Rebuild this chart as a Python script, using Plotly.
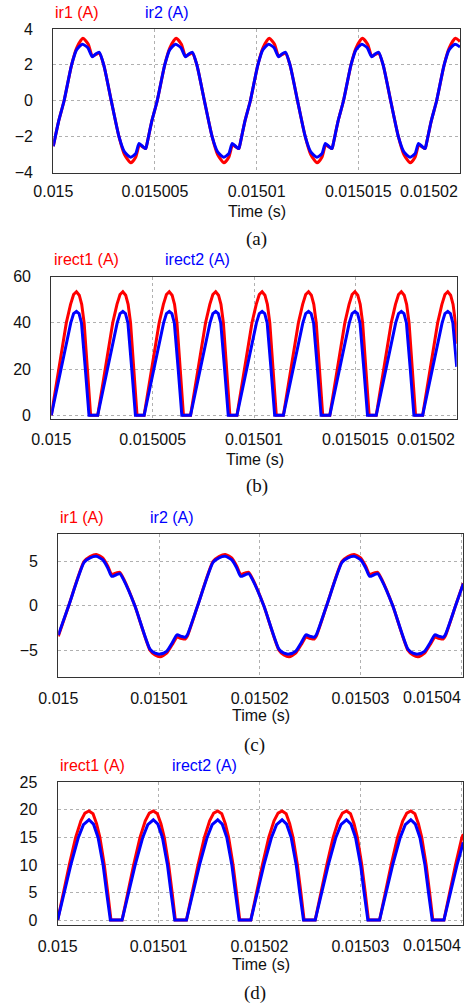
import numpy as np
import plotly.graph_objects as go

W, H = 468, 1006
T0 = 0.015      # time origin (s)
US = 1e-6       # the time arrays below are offsets in microseconds

# ---------------- (a) resonant currents ir1 / ir2 ----------------
a_t1 = [0.00, 0.25, 0.53, 0.90, 1.15, 1.46, 1.72, 1.92, 2.10, 2.26, 2.48, 2.85, 3.23, 3.50, 3.81, 4.05, 4.24, 4.40, 4.54,
        4.58, 4.83, 5.11, 5.48, 5.73, 6.04, 6.30, 6.50, 6.68, 6.84, 7.06, 7.43, 7.81, 8.08, 8.39, 8.63, 8.82, 8.98, 9.12,
        9.16, 9.41, 9.69, 10.06, 10.31, 10.62, 10.88, 11.08, 11.26, 11.42, 11.64, 12.01, 12.39, 12.66, 12.97, 13.21, 13.40, 13.56, 13.70,
        13.74, 13.99, 14.27, 14.64, 14.89, 15.20, 15.46, 15.66, 15.84, 16.00, 16.22, 16.59, 16.97, 17.24, 17.55, 17.79, 17.98, 18.14, 18.28,
        18.32, 18.57, 18.85, 19.22, 19.47, 19.78, 20.00]
a_ir1 = [-2.54, -1.20, 0, 2.00, 2.95, 3.48, 3.15, 2.48, 2.58, 2.65, 2.00, 0, -2.00, -3.00, -3.46, -3.15, -2.45, -2.58, -2.67,
         -2.54, -1.20, 0, 2.00, 2.95, 3.48, 3.15, 2.48, 2.58, 2.65, 2.00, 0, -2.00, -3.00, -3.46, -3.15, -2.45, -2.58, -2.67,
         -2.54, -1.20, 0, 2.00, 2.95, 3.48, 3.15, 2.48, 2.58, 2.65, 2.00, 0, -2.00, -3.00, -3.46, -3.15, -2.45, -2.58, -2.67,
         -2.54, -1.20, 0, 2.00, 2.95, 3.48, 3.15, 2.48, 2.58, 2.65, 2.00, 0, -2.00, -3.00, -3.46, -3.15, -2.45, -2.58, -2.67,
         -2.54, -1.20, 0, 2.00, 2.95, 3.48, 3.30]
a_t2 = [0.00, 0.25, 0.53, 0.90, 1.15, 1.43, 1.70, 1.92, 2.10, 2.26, 2.48, 2.85, 3.23, 3.50, 3.80, 4.05, 4.22, 4.40, 4.54,
        4.58, 4.83, 5.11, 5.48, 5.73, 6.01, 6.28, 6.50, 6.68, 6.84, 7.06, 7.43, 7.81, 8.08, 8.38, 8.63, 8.80, 8.98, 9.12,
        9.16, 9.41, 9.69, 10.06, 10.31, 10.59, 10.86, 11.08, 11.26, 11.42, 11.64, 12.01, 12.39, 12.66, 12.96, 13.21, 13.38, 13.56, 13.70,
        13.74, 13.99, 14.27, 14.64, 14.89, 15.17, 15.44, 15.66, 15.84, 16.00, 16.22, 16.59, 16.97, 17.24, 17.54, 17.79, 17.96, 18.14, 18.28,
        18.32, 18.57, 18.85, 19.22, 19.47, 19.75, 20.00]
a_ir2 = [-2.54, -1.20, 0, 2.00, 2.85, 3.15, 2.95, 2.45, 2.62, 2.70, 2.00, 0, -2.00, -2.85, -3.15, -2.95, -2.38, -2.55, -2.67,
         -2.54, -1.20, 0, 2.00, 2.85, 3.15, 2.95, 2.45, 2.62, 2.70, 2.00, 0, -2.00, -2.85, -3.15, -2.95, -2.38, -2.55, -2.67,
         -2.54, -1.20, 0, 2.00, 2.85, 3.15, 2.95, 2.45, 2.62, 2.70, 2.00, 0, -2.00, -2.85, -3.15, -2.95, -2.38, -2.55, -2.67,
         -2.54, -1.20, 0, 2.00, 2.85, 3.15, 2.95, 2.45, 2.62, 2.70, 2.00, 0, -2.00, -2.85, -3.15, -2.95, -2.38, -2.55, -2.67,
         -2.54, -1.20, 0, 2.00, 2.85, 3.15, 3.00]

# ---------------- (b) rectifier currents irect1 / irect2 ----------------
b_t1 = [0.00, 0.19, 0.38, 0.56, 0.74, 0.95, 1.10, 1.24, 1.38, 1.50, 1.62, 1.78, 1.94,
        2.29, 2.48, 2.67, 2.85, 3.03, 3.24, 3.39, 3.53, 3.67, 3.79, 3.91, 4.07, 4.23,
        4.58, 4.77, 4.96, 5.14, 5.32, 5.53, 5.68, 5.82, 5.96, 6.08, 6.20, 6.36, 6.52,
        6.87, 7.06, 7.25, 7.43, 7.61, 7.82, 7.97, 8.11, 8.25, 8.37, 8.49, 8.65, 8.81,
        9.16, 9.35, 9.54, 9.72, 9.90, 10.11, 10.26, 10.40, 10.54, 10.66, 10.78, 10.94, 11.10,
        11.45, 11.64, 11.83, 12.01, 12.19, 12.40, 12.55, 12.69, 12.83, 12.95, 13.07, 13.23, 13.39,
        13.74, 13.93, 14.12, 14.30, 14.48, 14.69, 14.84, 14.98, 15.12, 15.24, 15.36, 15.52, 15.68,
        16.03, 16.22, 16.41, 16.59, 16.77, 16.98, 17.13, 17.27, 17.41, 17.53, 17.65, 17.81, 17.97,
        18.32, 18.51, 18.70, 18.88, 19.06, 19.27, 19.42, 19.56, 19.70, 19.82, 19.94, 20.00]
b_irect1 = [0, 10, 20, 30, 40, 48, 52.3, 53.5, 52, 48, 40, 20, 0,
            0, 10, 20, 30, 40, 48, 52.3, 53.5, 52, 48, 40, 20, 0,
            0, 10, 20, 30, 40, 48, 52.3, 53.5, 52, 48, 40, 20, 0,
            0, 10, 20, 30, 40, 48, 52.3, 53.5, 52, 48, 40, 20, 0,
            0, 10, 20, 30, 40, 48, 52.3, 53.5, 52, 48, 40, 20, 0,
            0, 10, 20, 30, 40, 48, 52.3, 53.5, 52, 48, 40, 20, 0,
            0, 10, 20, 30, 40, 48, 52.3, 53.5, 52, 48, 40, 20, 0,
            0, 10, 20, 30, 40, 48, 52.3, 53.5, 52, 48, 40, 20, 0,
            0, 10, 20, 30, 40, 48, 52.3, 53.5, 52, 48, 40, 31]
b_t2 = [0.00, 0.24, 0.47, 0.72, 0.96, 1.10, 1.24, 1.37, 1.49, 1.68, 1.86,
        2.29, 2.53, 2.76, 3.01, 3.25, 3.39, 3.53, 3.66, 3.78, 3.97, 4.15,
        4.58, 4.82, 5.05, 5.30, 5.54, 5.68, 5.82, 5.95, 6.07, 6.26, 6.44,
        6.87, 7.11, 7.34, 7.59, 7.83, 7.97, 8.11, 8.24, 8.36, 8.55, 8.73,
        9.16, 9.40, 9.63, 9.88, 10.12, 10.26, 10.40, 10.53, 10.65, 10.84, 11.02,
        11.45, 11.69, 11.92, 12.17, 12.41, 12.55, 12.69, 12.82, 12.94, 13.13, 13.31,
        13.74, 13.98, 14.21, 14.46, 14.70, 14.84, 14.98, 15.11, 15.23, 15.42, 15.60,
        16.03, 16.27, 16.50, 16.75, 16.99, 17.13, 17.27, 17.40, 17.52, 17.71, 17.89,
        18.32, 18.56, 18.79, 19.04, 19.28, 19.42, 19.56, 19.69, 19.81, 20.00]
b_irect2 = [0, 10, 20, 30, 40, 44, 45, 44, 40, 20, 0,
            0, 10, 20, 30, 40, 44, 45, 44, 40, 20, 0,
            0, 10, 20, 30, 40, 44, 45, 44, 40, 20, 0,
            0, 10, 20, 30, 40, 44, 45, 44, 40, 20, 0,
            0, 10, 20, 30, 40, 44, 45, 44, 40, 20, 0,
            0, 10, 20, 30, 40, 44, 45, 44, 40, 20, 0,
            0, 10, 20, 30, 40, 44, 45, 44, 40, 20, 0,
            0, 10, 20, 30, 40, 44, 45, 44, 40, 20, 0,
            0, 10, 20, 30, 40, 44, 45, 44, 40, 21]

# ---------------- (c) resonant currents ir1 / ir2 ----------------
c_t = [0.00, 1.03, 2.56, 3.15, 3.77, 4.40, 4.90, 5.30, 5.75, 6.10, 6.50, 7.60, 9.10, 9.60, 10.11, 10.75, 11.30, 11.78, 12.20, 12.60,
       12.80, 13.83, 15.36, 15.95, 16.57, 17.20, 17.70, 18.10, 18.55, 18.90, 19.30, 20.40, 21.90, 22.40, 22.91, 23.55, 24.10, 24.58, 25.00, 25.40,
       25.60, 26.63, 28.16, 28.75, 29.37, 30.00, 30.50, 30.90, 31.35, 31.70, 32.10, 33.20, 34.70, 35.20, 35.71, 36.35, 36.90, 37.38, 37.80, 38.20,
       38.40, 39.43, 40.20]
c_ir1 = [-3.45, 0, 5.00, 5.55, 5.80, 5.40, 4.50, 3.55, 3.70, 3.78, 3.00, 0, -5.00, -5.55, -5.75, -5.35, -4.40, -3.55, -3.68, -3.75,
         -3.45, 0, 5.00, 5.55, 5.80, 5.40, 4.50, 3.55, 3.70, 3.78, 3.00, 0, -5.00, -5.55, -5.75, -5.35, -4.40, -3.55, -3.68, -3.75,
         -3.45, 0, 5.00, 5.55, 5.80, 5.40, 4.50, 3.55, 3.70, 3.78, 3.00, 0, -5.00, -5.55, -5.75, -5.35, -4.40, -3.55, -3.68, -3.75,
         -3.45, 0, 2.55]
c_ir2 = [-3.30, 0, 4.90, 5.40, 5.58, 5.20, 4.30, 3.32, 3.50, 3.62, 2.90, 0, -4.90, -5.35, -5.45, -5.15, -4.20, -3.28, -3.45, -3.55,
         -3.30, 0, 4.90, 5.40, 5.58, 5.20, 4.30, 3.32, 3.50, 3.62, 2.90, 0, -4.90, -5.35, -5.45, -5.15, -4.20, -3.28, -3.45, -3.55,
         -3.30, 0, 4.90, 5.40, 5.58, 5.20, 4.30, 3.32, 3.50, 3.62, 2.90, 0, -4.90, -5.35, -5.45, -5.15, -4.20, -3.28, -3.45, -3.55,
         -3.30, 0, 2.50]

# ---------------- (d) rectifier currents irect1 / irect2 ----------------
d_t1 = [0.00, 0.56, 1.15, 1.78, 2.30, 2.70, 3.10, 3.50, 3.85, 4.18, 4.62, 4.96, 5.28,
        6.38, 6.94, 7.53, 8.16, 8.68, 9.08, 9.48, 9.88, 10.23, 10.56, 11.00, 11.34, 11.66,
        12.76, 13.32, 13.91, 14.54, 15.06, 15.46, 15.86, 16.26, 16.61, 16.94, 17.38, 17.72, 18.04,
        19.14, 19.70, 20.29, 20.92, 21.44, 21.84, 22.24, 22.64, 22.99, 23.32, 23.76, 24.10, 24.42,
        25.52, 26.08, 26.67, 27.30, 27.82, 28.22, 28.62, 29.02, 29.37, 29.70, 30.14, 30.48, 30.80,
        31.90, 32.46, 33.05, 33.68, 34.20, 34.60, 35.00, 35.40, 35.75, 36.08, 36.52, 36.86, 37.18,
        38.28, 38.84, 39.43, 40.06, 40.20]
d_irect1 = [0, 5, 10, 15, 18, 19.4, 19.8, 19.3, 17.5, 15, 10, 5, 0,
            0, 5, 10, 15, 18, 19.4, 19.8, 19.3, 17.5, 15, 10, 5, 0,
            0, 5, 10, 15, 18, 19.4, 19.8, 19.3, 17.5, 15, 10, 5, 0,
            0, 5, 10, 15, 18, 19.4, 19.8, 19.3, 17.5, 15, 10, 5, 0,
            0, 5, 10, 15, 18, 19.4, 19.8, 19.3, 17.5, 15, 10, 5, 0,
            0, 5, 10, 15, 18, 19.4, 19.8, 19.3, 17.5, 15, 10, 5, 0,
            0, 5, 10, 15, 15.6]
d_t2 = [0.00, 0.62, 1.30, 2.05, 2.55, 3.10, 3.55, 4.00, 4.50, 4.85, 5.22,
        6.38, 7.00, 7.68, 8.43, 8.93, 9.48, 9.93, 10.38, 10.88, 11.23, 11.60,
        12.76, 13.38, 14.06, 14.81, 15.31, 15.86, 16.31, 16.76, 17.26, 17.61, 17.98,
        19.14, 19.76, 20.44, 21.19, 21.69, 22.24, 22.69, 23.14, 23.64, 23.99, 24.36,
        25.52, 26.14, 26.82, 27.57, 28.07, 28.62, 29.07, 29.52, 30.02, 30.37, 30.74,
        31.90, 32.52, 33.20, 33.95, 34.45, 35.00, 35.45, 35.90, 36.40, 36.75, 37.12,
        38.28, 38.90, 39.58, 40.20]
d_irect2 = [0, 5, 10, 15, 17.3, 18.2, 17.4, 15, 10, 5, 0,
            0, 5, 10, 15, 17.3, 18.2, 17.4, 15, 10, 5, 0,
            0, 5, 10, 15, 17.3, 18.2, 17.4, 15, 10, 5, 0,
            0, 5, 10, 15, 17.3, 18.2, 17.4, 15, 10, 5, 0,
            0, 5, 10, 15, 17.3, 18.2, 17.4, 15, 10, 5, 0,
            0, 5, 10, 15, 17.3, 18.2, 17.4, 15, 10, 5, 0,
            0, 5, 10, 14.1]

# tick labels
ab_xticks = [0.015, 0.015005, 0.01501, 0.015015, 0.01502]
ab_xtext = ["0.015", "0.015005", "0.01501", "0.015015", "0.01502"]
cd_xticks = [0.015, 0.01501, 0.01502, 0.01503, 0.01504]
cd_xtext = ["0.015", "0.01501", "0.01502", "0.01503", "0.01504"]
a_yticks = [-4, -2, 0, 2, 4]
b_yticks = [0, 20, 40, 60]
c_yticks = [-5, 0, 5]
d_yticks = [0, 5, 10, 15, 20, 25]

RED = "#ff0000"
BLUE = "#0000ff"
SANS = "Liberation Sans, Arial, sans-serif"
SERIF = "Liberation Serif, Times New Roman, serif"

# panel geometry in pixels: left, right, top, bottom; xlab = label offset below the plot
panels = [
    dict(box=(53.3, 460.0, 29.0, 172.5), yr=[-4, 4], yt=a_yticks, xr=[0.015, 0.01502], xt=ab_xticks, xl=ab_xtext,
         s=[(a_t1, a_ir1, RED, "spline"), (a_t2, a_ir2, BLUE, "spline")], tl=4, xlab=18.5,
         names=("ir1 (A)", "ir2 (A)"), leg=(53.3, 143.3, 12), time=(256.6, 211), cap=("(a)", 256, 239)),
    dict(box=(51.3, 456.7, 276.7, 418.5), yr=[-1.4, 60], yt=b_yticks, xr=[0.015, 0.01502], xt=ab_xticks, xl=ab_xtext,
         s=[(b_t1, b_irect1, RED, "linear"), (b_t2, b_irect2, BLUE, "linear")], tl=6.5, xlab=21,
         names=("irect1 (A)", "irect2 (A)"), leg=(51.7, 163.3, 259), time=(255, 459), cap=("(b)", 257, 486)),
    dict(box=(58.3, 463.3, 534.0, 676.7), yr=[-8, 8.1], yt=c_yticks, xr=[0.015, 0.0150402], xt=cd_xticks, xl=cd_xtext,
         s=[(c_t, c_ir1, RED, "spline"), (c_t, c_ir2, BLUE, "spline")], tl=6.5, xlab=21,
         names=("ir1 (A)", "ir2 (A)"), leg=(58.3, 148.3, 517), time=(261, 715), cap=("(c)", 255, 745)),
    dict(box=(57.7, 463.3, 782.3, 924.7), yr=[-0.85, 25], yt=d_yticks, xr=[0.015, 0.0150402], xt=cd_xticks, xl=cd_xtext,
         s=[(d_t1, d_irect1, RED, "linear"), (d_t2, d_irect2, BLUE, "linear")], tl=6.5, xlab=21,
         names=("irect1 (A)", "irect2 (A)"), leg=(58.3, 170.0, 765), time=(261, 964), cap=("(d)", 255, 993)),
]

fig = go.Figure()
annotations = []
layout = {}

for i, p in enumerate(panels, start=1):
    xa = "x" if i == 1 else f"x{i}"
    ya = "y" if i == 1 else f"y{i}"
    xkey = "xaxis" if i == 1 else f"xaxis{i}"
    ykey = "yaxis" if i == 1 else f"yaxis{i}"
    l, r, t, b = p["box"]
    for tt, vv, col, shp in p["s"]:
        line = dict(color=col, width=3, shape=shp)
        if shp == "spline":
            line["smoothing"] = 0.6
        fig.add_trace(go.Scatter(x=T0 + np.array(tt) * US, y=vv, xaxis=xa, yaxis=ya, mode="lines",
                                 line=line, showlegend=False, hoverinfo="skip"))
    layout[xkey] = dict(domain=[l / W, r / W], anchor=ya, range=p["xr"], tickvals=p["xt"],
                        ticktext=p["xl"][:-1] + [""], automargin=False,
                        showgrid=True, gridcolor="#b0b0b0", griddash="dot", gridwidth=1,
                        showline=True, mirror=True, linecolor="#333333", linewidth=1.2,
                        ticks="outside", ticklen=p["tl"], tickcolor="rgba(0,0,0,0)",
                        tickfont=dict(family=SANS, size=16, color="#111111"),
                        zeroline=False, fixedrange=True)
    layout[ykey] = dict(domain=[1 - b / H, 1 - t / H], anchor=xa, range=p["yr"], tickvals=p["yt"],
                        automargin=False,
                        showgrid=True, gridcolor="#b0b0b0", griddash="dot", gridwidth=1,
                        showline=True, mirror=True, linecolor="#333333", linewidth=1.2,
                        ticks="outside", ticklen=16, tickcolor="rgba(0,0,0,0)",
                        tickfont=dict(family=SANS, size=16, color="#111111"),
                        zeroline=False, fixedrange=True)
    # last x tick label, kept inside the plot's right edge
    annotations.append(dict(x=1.0, y=1 - (b + p["xlab"]) / H, xref=f"{xa} domain", yref="paper",
                            text=p["xl"][-1], showarrow=False, xanchor="right", yanchor="middle",
                            font=dict(family=SANS, size=16, color="#111111")))
    # series labels, placed in the subplot's time coordinates (above the frame)
    x1, x2, yl = p["leg"]
    span = p["xr"][1] - p["xr"][0]
    for xp, name, col in ((x1, p["names"][0], RED), (x2, p["names"][1], BLUE)):
        annotations.append(dict(x=p["xr"][0] + (xp - l) / (r - l) * span, y=1 - yl / H,
                                xref=xa, yref="paper", text=name, showarrow=False,
                                xanchor="left", yanchor="middle",
                                font=dict(family=SANS, size=16, color=col)))
    # axis title
    tx, ty = p["time"]
    annotations.append(dict(x=tx / W, y=1 - ty / H, xref="paper", yref="paper", text="Time (s)",
                            showarrow=False, xanchor="center", yanchor="middle",
                            font=dict(family=SANS, size=16, color="#111111")))
    # caption
    ct, cx, cy = p["cap"]
    annotations.append(dict(x=cx / W, y=1 - cy / H, xref="paper", yref="paper", text=ct,
                            showarrow=False, xanchor="center", yanchor="middle",
                            font=dict(family=SERIF, size=19, color="#111111")))

fig.update_layout(width=W, height=H, margin=dict(l=0, r=0, t=0, b=0, autoexpand=False),
                  paper_bgcolor="white", plot_bgcolor="white",
                  annotations=annotations, **layout)

fig.write_html("out.html", config={"displayModeBar": False},
               post_script="document.body.style.margin='0px';document.body.style.overflow='hidden';")
